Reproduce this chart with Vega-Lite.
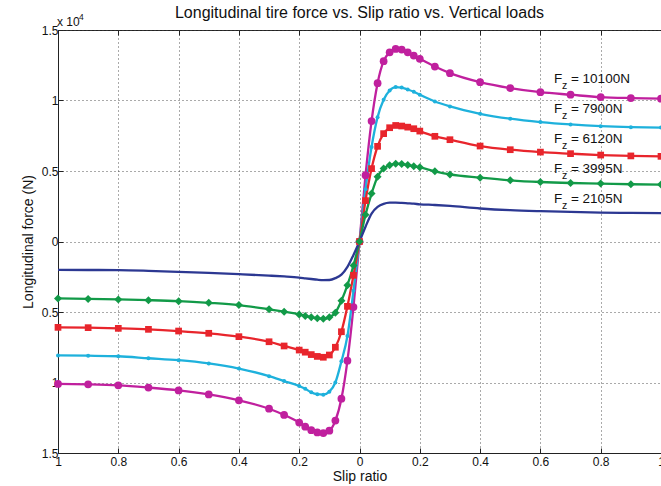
{
  "$schema": "https://vega.github.io/schema/vega-lite/v6.json",
  "width": 603,
  "height": 423,
  "autosize": "none",
  "padding": {"left": 58, "top": 30, "right": 0, "bottom": 33},
  "background": "white",
  "config": {"font": "Liberation Sans", "view": {"stroke": "#222", "strokeWidth": 1}},
  "title": {"text": "Longitudinal tire force vs. Slip ratio vs. Vertical loads", "fontSize": 16, "fontWeight": "normal", "color": "#111", "offset": 8, "dy": 16, "anchor": "middle", "font": "Liberation Sans"},
  "datasets": {
    "curves": [
      {"s": -1, "F": -10100, "Fz": "10100N"}, {"s": -0.9, "F": -10130, "Fz": "10100N"}, {"s": -0.8, "F": -10200, "Fz": "10100N"}, {"s": -0.7, "F": -10360, "Fz": "10100N"}, {"s": -0.6, "F": -10560, "Fz": "10100N"}, {"s": -0.5, "F": -10850, "Fz": "10100N"}, {"s": -0.4, "F": -11260, "Fz": "10100N"}, {"s": -0.3, "F": -11860, "Fz": "10100N"}, {"s": -0.25, "F": -12300, "Fz": "10100N"}, {"s": -0.2, "F": -12840, "Fz": "10100N"}, {"s": -0.18, "F": -13130, "Fz": "10100N"}, {"s": -0.16, "F": -13380, "Fz": "10100N"}, {"s": -0.14, "F": -13540, "Fz": "10100N"}, {"s": -0.12, "F": -13590, "Fz": "10100N"}, {"s": -0.1, "F": -13420, "Fz": "10100N"}, {"s": -0.08, "F": -12700, "Fz": "10100N"}, {"s": -0.06, "F": -11150, "Fz": "10100N"}, {"s": -0.04, "F": -8450, "Fz": "10100N"}, {"s": -0.02, "F": -4650, "Fz": "10100N"}, {"s": 0, "F": 0, "Fz": "10100N"}, {"s": 0.02, "F": 4700, "Fz": "10100N"}, {"s": 0.04, "F": 8540, "Fz": "10100N"}, {"s": 0.06, "F": 11230, "Fz": "10100N"}, {"s": 0.08, "F": 12790, "Fz": "10100N"}, {"s": 0.1, "F": 13420, "Fz": "10100N"}, {"s": 0.12, "F": 13660, "Fz": "10100N"}, {"s": 0.14, "F": 13610, "Fz": "10100N"}, {"s": 0.16, "F": 13420, "Fz": "10100N"}, {"s": 0.18, "F": 13190, "Fz": "10100N"}, {"s": 0.2, "F": 12960, "Fz": "10100N"}, {"s": 0.25, "F": 12410, "Fz": "10100N"}, {"s": 0.3, "F": 11940, "Fz": "10100N"}, {"s": 0.4, "F": 11300, "Fz": "10100N"}, {"s": 0.5, "F": 10880, "Fz": "10100N"}, {"s": 0.6, "F": 10590, "Fz": "10100N"}, {"s": 0.7, "F": 10410, "Fz": "10100N"}, {"s": 0.8, "F": 10240, "Fz": "10100N"}, {"s": 0.9, "F": 10170, "Fz": "10100N"}, {"s": 1, "F": 10130, "Fz": "10100N"},
      {"s": -1, "F": -8080, "Fz": "7900N"}, {"s": -0.9, "F": -8100, "Fz": "7900N"}, {"s": -0.8, "F": -8140, "Fz": "7900N"}, {"s": -0.7, "F": -8280, "Fz": "7900N"}, {"s": -0.6, "F": -8420, "Fz": "7900N"}, {"s": -0.5, "F": -8650, "Fz": "7900N"}, {"s": -0.4, "F": -9010, "Fz": "7900N"}, {"s": -0.3, "F": -9550, "Fz": "7900N"}, {"s": -0.25, "F": -9900, "Fz": "7900N"}, {"s": -0.2, "F": -10250, "Fz": "7900N"}, {"s": -0.18, "F": -10450, "Fz": "7900N"}, {"s": -0.16, "F": -10700, "Fz": "7900N"}, {"s": -0.14, "F": -10830, "Fz": "7900N"}, {"s": -0.12, "F": -10860, "Fz": "7900N"}, {"s": -0.1, "F": -10650, "Fz": "7900N"}, {"s": -0.08, "F": -10000, "Fz": "7900N"}, {"s": -0.06, "F": -8500, "Fz": "7900N"}, {"s": -0.04, "F": -6700, "Fz": "7900N"}, {"s": -0.02, "F": -3500, "Fz": "7900N"}, {"s": 0, "F": 0, "Fz": "7900N"}, {"s": 0.02, "F": 3700, "Fz": "7900N"}, {"s": 0.04, "F": 6700, "Fz": "7900N"}, {"s": 0.06, "F": 8820, "Fz": "7900N"}, {"s": 0.08, "F": 10050, "Fz": "7900N"}, {"s": 0.1, "F": 10710, "Fz": "7900N"}, {"s": 0.12, "F": 10950, "Fz": "7900N"}, {"s": 0.14, "F": 10920, "Fz": "7900N"}, {"s": 0.16, "F": 10780, "Fz": "7900N"}, {"s": 0.18, "F": 10620, "Fz": "7900N"}, {"s": 0.2, "F": 10410, "Fz": "7900N"}, {"s": 0.25, "F": 9930, "Fz": "7900N"}, {"s": 0.3, "F": 9580, "Fz": "7900N"}, {"s": 0.4, "F": 9060, "Fz": "7900N"}, {"s": 0.5, "F": 8710, "Fz": "7900N"}, {"s": 0.6, "F": 8470, "Fz": "7900N"}, {"s": 0.7, "F": 8300, "Fz": "7900N"}, {"s": 0.8, "F": 8180, "Fz": "7900N"}, {"s": 0.9, "F": 8110, "Fz": "7900N"}, {"s": 1, "F": 8080, "Fz": "7900N"},
      {"s": -1, "F": -6090, "Fz": "6120N"}, {"s": -0.9, "F": -6110, "Fz": "6120N"}, {"s": -0.8, "F": -6160, "Fz": "6120N"}, {"s": -0.7, "F": -6230, "Fz": "6120N"}, {"s": -0.6, "F": -6350, "Fz": "6120N"}, {"s": -0.5, "F": -6510, "Fz": "6120N"}, {"s": -0.4, "F": -6750, "Fz": "6120N"}, {"s": -0.3, "F": -7110, "Fz": "6120N"}, {"s": -0.25, "F": -7410, "Fz": "6120N"}, {"s": -0.2, "F": -7700, "Fz": "6120N"}, {"s": -0.18, "F": -7850, "Fz": "6120N"}, {"s": -0.16, "F": -8020, "Fz": "6120N"}, {"s": -0.14, "F": -8150, "Fz": "6120N"}, {"s": -0.12, "F": -8210, "Fz": "6120N"}, {"s": -0.1, "F": -8050, "Fz": "6120N"}, {"s": -0.08, "F": -7500, "Fz": "6120N"}, {"s": -0.06, "F": -6400, "Fz": "6120N"}, {"s": -0.04, "F": -4600, "Fz": "6120N"}, {"s": -0.02, "F": -2400, "Fz": "6120N"}, {"s": 0, "F": 0, "Fz": "6120N"}, {"s": 0.02, "F": 2900, "Fz": "6120N"}, {"s": 0.04, "F": 5170, "Fz": "6120N"}, {"s": 0.06, "F": 6750, "Fz": "6120N"}, {"s": 0.08, "F": 7650, "Fz": "6120N"}, {"s": 0.1, "F": 8070, "Fz": "6120N"}, {"s": 0.12, "F": 8230, "Fz": "6120N"}, {"s": 0.14, "F": 8190, "Fz": "6120N"}, {"s": 0.16, "F": 8110, "Fz": "6120N"}, {"s": 0.18, "F": 8000, "Fz": "6120N"}, {"s": 0.2, "F": 7830, "Fz": "6120N"}, {"s": 0.25, "F": 7460, "Fz": "6120N"}, {"s": 0.3, "F": 7220, "Fz": "6120N"}, {"s": 0.4, "F": 6770, "Fz": "6120N"}, {"s": 0.5, "F": 6510, "Fz": "6120N"}, {"s": 0.6, "F": 6340, "Fz": "6120N"}, {"s": 0.7, "F": 6230, "Fz": "6120N"}, {"s": 0.8, "F": 6130, "Fz": "6120N"}, {"s": 0.9, "F": 6070, "Fz": "6120N"}, {"s": 1, "F": 6040, "Fz": "6120N"},
      {"s": -1, "F": -4040, "Fz": "3995N"}, {"s": -0.9, "F": -4070, "Fz": "3995N"}, {"s": -0.8, "F": -4110, "Fz": "3995N"}, {"s": -0.7, "F": -4160, "Fz": "3995N"}, {"s": -0.6, "F": -4230, "Fz": "3995N"}, {"s": -0.5, "F": -4350, "Fz": "3995N"}, {"s": -0.4, "F": -4510, "Fz": "3995N"}, {"s": -0.3, "F": -4810, "Fz": "3995N"}, {"s": -0.25, "F": -4980, "Fz": "3995N"}, {"s": -0.2, "F": -5170, "Fz": "3995N"}, {"s": -0.18, "F": -5290, "Fz": "3995N"}, {"s": -0.16, "F": -5380, "Fz": "3995N"}, {"s": -0.14, "F": -5450, "Fz": "3995N"}, {"s": -0.12, "F": -5480, "Fz": "3995N"}, {"s": -0.1, "F": -5380, "Fz": "3995N"}, {"s": -0.08, "F": -5050, "Fz": "3995N"}, {"s": -0.06, "F": -4200, "Fz": "3995N"}, {"s": -0.04, "F": -3100, "Fz": "3995N"}, {"s": -0.02, "F": -1700, "Fz": "3995N"}, {"s": 0, "F": 0, "Fz": "3995N"}, {"s": 0.02, "F": 1900, "Fz": "3995N"}, {"s": 0.04, "F": 3400, "Fz": "3995N"}, {"s": 0.06, "F": 4600, "Fz": "3995N"}, {"s": 0.08, "F": 5170, "Fz": "3995N"}, {"s": 0.1, "F": 5400, "Fz": "3995N"}, {"s": 0.12, "F": 5520, "Fz": "3995N"}, {"s": 0.14, "F": 5490, "Fz": "3995N"}, {"s": 0.16, "F": 5430, "Fz": "3995N"}, {"s": 0.18, "F": 5330, "Fz": "3995N"}, {"s": 0.2, "F": 5260, "Fz": "3995N"}, {"s": 0.25, "F": 4980, "Fz": "3995N"}, {"s": 0.3, "F": 4760, "Fz": "3995N"}, {"s": 0.4, "F": 4530, "Fz": "3995N"}, {"s": 0.5, "F": 4340, "Fz": "3995N"}, {"s": 0.6, "F": 4220, "Fz": "3995N"}, {"s": 0.7, "F": 4150, "Fz": "3995N"}, {"s": 0.8, "F": 4110, "Fz": "3995N"}, {"s": 0.9, "F": 4060, "Fz": "3995N"}, {"s": 1, "F": 4040, "Fz": "3995N"},
      {"s": -1, "F": -2010, "Fz": "2105N"}, {"s": -0.9, "F": -2020, "Fz": "2105N"}, {"s": -0.8, "F": -2030, "Fz": "2105N"}, {"s": -0.7, "F": -2080, "Fz": "2105N"}, {"s": -0.6, "F": -2150, "Fz": "2105N"}, {"s": -0.5, "F": -2230, "Fz": "2105N"}, {"s": -0.4, "F": -2320, "Fz": "2105N"}, {"s": -0.3, "F": -2420, "Fz": "2105N"}, {"s": -0.25, "F": -2480, "Fz": "2105N"}, {"s": -0.2, "F": -2560, "Fz": "2105N"}, {"s": -0.18, "F": -2610, "Fz": "2105N"}, {"s": -0.16, "F": -2660, "Fz": "2105N"}, {"s": -0.14, "F": -2710, "Fz": "2105N"}, {"s": -0.12, "F": -2740, "Fz": "2105N"}, {"s": -0.1, "F": -2730, "Fz": "2105N"}, {"s": -0.08, "F": -2600, "Fz": "2105N"}, {"s": -0.06, "F": -2350, "Fz": "2105N"}, {"s": -0.04, "F": -1800, "Fz": "2105N"}, {"s": -0.02, "F": -950, "Fz": "2105N"}, {"s": 0, "F": 0, "Fz": "2105N"}, {"s": 0.02, "F": 1050, "Fz": "2105N"}, {"s": 0.04, "F": 1980, "Fz": "2105N"}, {"s": 0.06, "F": 2450, "Fz": "2105N"}, {"s": 0.08, "F": 2670, "Fz": "2105N"}, {"s": 0.1, "F": 2750, "Fz": "2105N"}, {"s": 0.12, "F": 2760, "Fz": "2105N"}, {"s": 0.14, "F": 2740, "Fz": "2105N"}, {"s": 0.16, "F": 2710, "Fz": "2105N"}, {"s": 0.18, "F": 2680, "Fz": "2105N"}, {"s": 0.2, "F": 2640, "Fz": "2105N"}, {"s": 0.25, "F": 2590, "Fz": "2105N"}, {"s": 0.3, "F": 2520, "Fz": "2105N"}, {"s": 0.4, "F": 2340, "Fz": "2105N"}, {"s": 0.5, "F": 2220, "Fz": "2105N"}, {"s": 0.6, "F": 2150, "Fz": "2105N"}, {"s": 0.7, "F": 2100, "Fz": "2105N"}, {"s": 0.8, "F": 2050, "Fz": "2105N"}, {"s": 0.9, "F": 2030, "Fz": "2105N"}, {"s": 1, "F": 2010, "Fz": "2105N"}
    ],
    "labels": [
      {"x": 0.645, "y": 11260, "t": "= 10100N"},
      {"x": 0.645, "y": 9100, "t": "= 7900N"},
      {"x": 0.645, "y": 7010, "t": "= 6120N"},
      {"x": 0.645, "y": 4890, "t": "= 3995N"},
      {"x": 0.645, "y": 2760, "t": "= 2105N"}
    ],
    "corner": [{"x": -1, "y": 15000}]
  },
  "layer": [
    {
      "layer": [
        {
          "data": {"name": "curves"},
          "mark": {"type": "line", "strokeWidth": 2.3, "interpolate": "monotone"},
          "encoding": {
            "x": {
              "field": "s", "type": "quantitative",
              "scale": {"domain": [-1, 1], "nice": false, "zero": false},
              "axis": {
                "values": [-1, -0.8, -0.6, -0.4, -0.2, 0, 0.2, 0.4, 0.6, 0.8, 1],
                "labelExpr": "format(abs(datum.value), '~g')",
                "labelFlush": false, "labelOverlap": false,
                "labelFontSize": 12, "labelColor": "#111", "labelPadding": 8,
                "tickSize": -5, "tickColor": "#222", "domainColor": "#222",
                "grid": true, "gridDash": [1, 3], "gridColor": "#444", "gridOpacity": 0.9,
                "title": "Slip ratio", "titleFontSize": 14, "titleFontWeight": "normal", "titleColor": "#111", "titlePadding": 2
              }
            },
            "y": {
              "field": "F", "type": "quantitative",
              "scale": {"domain": [-15000, 15000], "nice": false, "zero": false},
              "axis": {
                "values": [-15000, -10000, -5000, 0, 5000, 10000, 15000],
                "labelExpr": "format(abs(datum.value) / 10000, '~g')",
                "labelFlush": false, "labelOverlap": false,
                "labelFontSize": 12, "labelColor": "#111", "labelPadding": 5,
                "tickSize": -5, "tickColor": "#222", "domainColor": "#222",
                "grid": true, "gridDash": [1, 3], "gridColor": "#444", "gridOpacity": 0.9,
                "title": "Longitudinal force (N)", "titleFontSize": 14, "titleFontWeight": "normal", "titleColor": "#111", "titlePadding": 6
              }
            },
            "color": {
              "field": "Fz", "type": "nominal",
              "scale": {"domain": ["10100N", "7900N", "6120N", "3995N", "2105N"], "range": ["#C0209E", "#1EB1DC", "#E8252C", "#129A48", "#2C3892"]},
              "legend": null
            },
            "order": {"field": "s", "type": "quantitative"}
          }
        },
        {
          "data": {"name": "curves"},
          "transform": [{"filter": "datum.Fz == '10100N'"}],
          "mark": {"type": "point", "shape": "circle", "filled": true, "opacity": 1, "size": 60, "color": "#C0209E"},
          "encoding": {"x": {"field": "s", "type": "quantitative"}, "y": {"field": "F", "type": "quantitative"}}
        },
        {
          "data": {"name": "curves"},
          "transform": [{"filter": "datum.Fz == '7900N'"}],
          "mark": {"type": "point", "shape": "circle", "filled": true, "opacity": 1, "size": 16, "color": "#1EB1DC"},
          "encoding": {"x": {"field": "s", "type": "quantitative"}, "y": {"field": "F", "type": "quantitative"}}
        },
        {
          "data": {"name": "curves"},
          "transform": [{"filter": "datum.Fz == '6120N'"}],
          "mark": {"type": "point", "shape": "square", "filled": true, "opacity": 1, "size": 45, "color": "#E8252C"},
          "encoding": {"x": {"field": "s", "type": "quantitative"}, "y": {"field": "F", "type": "quantitative"}}
        },
        {
          "data": {"name": "curves"},
          "transform": [{"filter": "datum.Fz == '3995N'"}],
          "mark": {"type": "point", "shape": "diamond", "filled": true, "opacity": 1, "size": 64, "color": "#129A48"},
          "encoding": {"x": {"field": "s", "type": "quantitative"}, "y": {"field": "F", "type": "quantitative"}}
        },
        {
          "data": {"name": "labels"},
          "mark": {"type": "text", "text": "F", "align": "left", "baseline": "alphabetic", "fontSize": 13.5, "color": "#111"},
          "encoding": {"x": {"field": "x", "type": "quantitative"}, "y": {"field": "y", "type": "quantitative"}}
        },
        {
          "data": {"name": "labels"},
          "mark": {"type": "text", "text": "z", "align": "left", "baseline": "alphabetic", "fontSize": 10.5, "dx": 8, "dy": 6, "color": "#111"},
          "encoding": {"x": {"field": "x", "type": "quantitative"}, "y": {"field": "y", "type": "quantitative"}}
        },
        {
          "data": {"name": "labels"},
          "mark": {"type": "text", "align": "left", "baseline": "alphabetic", "fontSize": 13.5, "dx": 17, "color": "#111"},
          "encoding": {"x": {"field": "x", "type": "quantitative"}, "y": {"field": "y", "type": "quantitative"}, "text": {"field": "t", "type": "nominal"}}
        },
        {
          "data": {"name": "corner"},
          "mark": {"type": "text", "text": "x 10", "align": "left", "baseline": "alphabetic", "fontSize": 12, "dx": -1, "dy": -4, "color": "#111"},
          "encoding": {"x": {"field": "x", "type": "quantitative"}, "y": {"field": "y", "type": "quantitative"}}
        },
        {
          "data": {"name": "corner"},
          "mark": {"type": "text", "text": "4", "align": "left", "baseline": "alphabetic", "fontSize": 8.5, "dx": 21, "dy": -10.5, "color": "#111"},
          "encoding": {"x": {"field": "x", "type": "quantitative"}, "y": {"field": "y", "type": "quantitative"}}
        }
      ]
    },
    {
      "data": {"name": "corner"},
      "mark": {"type": "point", "opacity": 0},
      "encoding": {
        "x": {
          "field": "x", "type": "quantitative",
          "axis": {"orient": "top", "values": [-1, -0.8, -0.6, -0.4, -0.2, 0, 0.2, 0.4, 0.6, 0.8, 1], "labels": false, "title": null, "grid": false, "domain": false, "tickSize": -5, "tickColor": "#222"}
        },
        "y": {"field": "y", "type": "quantitative"}
      }
    }
  ],
  "resolve": {"axis": {"x": "independent"}}
}
